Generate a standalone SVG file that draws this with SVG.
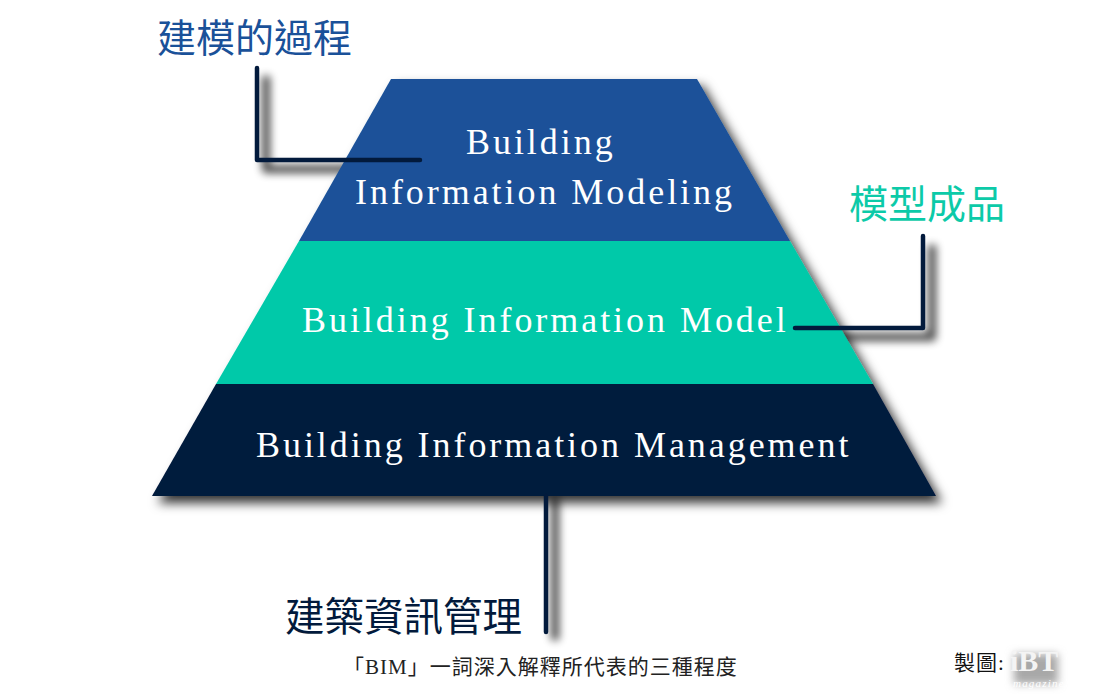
<svg xmlns="http://www.w3.org/2000/svg" width="1100" height="700" viewBox="0 0 1100 700">
<style>
.lvl{font-family:"Liberation Serif","Noto Sans CJK TC",serif;font-size:36px;fill:#fff;letter-spacing:2.95px}
.cjk{font-family:"Liberation Serif","Noto Sans CJK TC",serif;font-size:39px}
.conn{fill:none;stroke:#021a3c;stroke-width:4.5;stroke-linecap:round;stroke-linejoin:round}
.connsh{fill:none;stroke:#000;stroke-width:8;stroke-linejoin:round;opacity:.72;filter:url(#blur)}
.cap{font-family:"Liberation Serif","Noto Sans CJK TC",serif;font-size:21px;fill:#222;letter-spacing:1px}
</style>
<defs>
<filter id="blur" filterUnits="userSpaceOnUse" x="0" y="0" width="1100" height="700"><feGaussianBlur stdDeviation="4"/></filter>
<filter id="sh2" filterUnits="userSpaceOnUse" x="0" y="0" width="1100" height="700">
<feDropShadow dx="6" dy="7" stdDeviation="5.5" flood-color="#000" flood-opacity="0.8"/>
</filter>
<filter id="soft" filterUnits="userSpaceOnUse" x="980" y="620" width="110" height="80"><feGaussianBlur stdDeviation="4"/></filter>
</defs>
<rect width="1100" height="700" fill="#fff"/>
<g id="connector-shadows">
<path class="connsh" d="M266,76V169H420"/>
<path class="connsh" d="M795,337H932V245"/>
<path class="connsh" d="M555,497V640"/>
</g>
<g id="pyramid" filter="url(#sh2)">
<polygon id="tier-top" points="391,79 697,79 790,241 299,241" fill="#1a5199"/>
<polygon id="tier-middle" points="299,241 790,241 873,384 216,384" fill="#00c9a9"/>
<polygon id="tier-bottom" points="216,384 873,384 936,496 152,496" fill="#021a3c"/>
</g>
<g id="labels-tiers">
<text class="lvl" x="466" y="154">Building</text>
<text class="lvl" x="355" y="204">Information Modeling</text>
<text class="lvl" x="302" y="332">Building Information Model</text>
<text class="lvl" x="256" y="457">Building Information Management</text>
</g>
<g id="connectors">
<path class="conn" d="M257,68V160H420"/>
<path class="conn" d="M795,328H923V236"/>
<path class="conn" d="M546,496V632"/>
</g>
<g id="node-process"><text class="cjk" x="157" y="52" fill="#1a5199">建模的過程</text></g>
<g id="node-product"><text class="cjk" x="849" y="218" fill="#0ccaa8">模型成品</text></g>
<g id="node-management"><text class="cjk" x="285" y="631" fill="#021a3c" style="font-size:39.5px">建築資訊管理</text></g>
<g id="caption"><text class="cap" x="343" y="674">「BIM」一詞深入解釋所代表的三種程度</text></g>
<g id="credit">
<text class="cap" x="954" y="670" style="fill:#111">製圖:</text>
<rect x="1014" y="654" width="44" height="30" fill="#a8a8a8" filter="url(#soft)"/>
<text x="1010" y="671" style="font-family:'Liberation Serif',serif;font-size:30px;font-weight:bold;fill:#f4f4f4">iBT</text>
<text x="1013" y="687" style="font-family:'Liberation Serif',serif;font-size:11px;font-style:italic;fill:#fff;letter-spacing:1.2px">magazine</text>
</g>
</svg>
